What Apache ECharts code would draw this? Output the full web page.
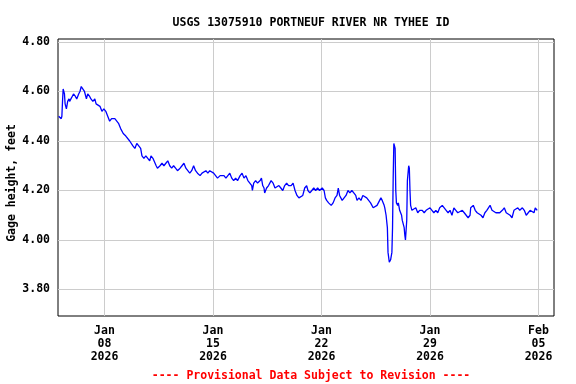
<!DOCTYPE html>
<html>
<head>
<meta charset="utf-8">
<script src="https://cdn.jsdelivr.net/npm/echarts@6/dist/echarts.min.js"></script>
<style>html,body{margin:0;padding:0;background:#fff}#c{width:576px;height:384px}</style>
</head>
<body>
<div id="c"></div>
<script>
// Hours since 2026-01-05 00:00 and gage height in feet
const startDate = '2026-01-05T00:00:00Z';
const endDate = '2026-02-06T00:00:00Z';
const hours = [
  1,3,5,6,7,8,10,11,12,13,
  15,17,18,20,22,24,27,29,32,34,
  36,39,41,44,46,49,51,54,57,59,
  62,65,68,71,74,77,80,83,88,91,
  94,97,101,105,108,111,116,119,122,125,
  128,130,133,136,139,142,144,147,150,152,
  154,158,161,164,167,170,173,176,179,182,
  185,189,192,195,198,201,204,207,210,213,
  216,220,223,226,229,232,235,238,241,244,
  247,251,254,257,260,263,266,269,272,275,
  278,282,285,288,291,294,297,300,301,303,
  306,309,313,315,317,319,320,323,326,330,
  333,336,339,342,345,348,351,354,357,361,
  364,367,370,373,376,379,382,385,387,390,
  393,396,399,402,405,409,412,414,416,419,
  423,426,429,432,434,436,440,443,446,449,
  452,455,458,461,463,466,469,472,475,478,
  481,484,488,491,494,495,500,502,505,506,
  508,510,511,513,515,517,518,519,520,522,
  523,524,526,527,529,532,533,536,537,538,
  540,541,543,544,545,546,548,551,554,557,
  560,564,567,570,573,576,579,582,585,588,
  591,595,598,601,604,607,610,613,616,619,
  622,626,629,632,635,638,639,643,646,649,
  652,655,658,661,664,667,669,672,675,678,
  681,684,688,691,694,697,700,703,706,709,
  712,715,719,722,725,728,731,734,737,739,
  742
];
const gageHeight = [
  4.50,4.50,4.49,4.50,4.56,4.61,4.59,4.55,4.54,4.53,
  4.56,4.57,4.56,4.57,4.58,4.59,4.58,4.57,4.59,4.60,
  4.62,4.62,4.60,4.57,4.59,4.58,4.57,4.56,4.57,4.55,
  4.55,4.54,4.52,4.53,4.52,4.50,4.48,4.49,4.49,4.48,
  4.47,4.45,4.43,4.42,4.42,4.40,4.38,4.37,4.39,4.38,
  4.37,4.34,4.33,4.34,4.33,4.32,4.34,4.33,4.33,4.30,
  4.29,4.30,4.31,4.30,4.31,4.32,4.30,4.29,4.30,4.29,
  4.28,4.29,4.30,4.31,4.29,4.28,4.27,4.28,4.30,4.28,
  4.27,4.26,4.27,4.27,4.28,4.27,4.28,4.28,4.27,4.26,
  4.25,4.26,4.26,4.26,4.25,4.26,4.27,4.25,4.24,4.25,
  4.24,4.26,4.27,4.25,4.26,4.24,4.23,4.22,4.20,4.23,
  4.24,4.23,4.24,4.25,4.22,4.21,4.19,4.21,4.22,4.24,
  4.23,4.21,4.21,4.22,4.21,4.20,4.22,4.23,4.22,4.22,
  4.23,4.20,4.18,4.17,4.17,4.18,4.21,4.22,4.20,4.19,
  4.20,4.21,4.20,4.21,4.20,4.21,4.20,4.17,4.16,4.15,
  4.14,4.15,4.17,4.18,4.21,4.18,4.16,4.17,4.18,4.20,
  4.19,4.20,4.19,4.18,4.16,4.17,4.16,4.18,4.18,4.17,
  4.16,4.15,4.13,4.13,4.14,4.14,4.17,4.16,4.14,4.13,
  4.10,4.05,3.95,3.91,3.92,3.95,4.05,4.25,4.39,4.37,
  4.20,4.15,4.14,4.15,4.12,4.10,4.08,4.05,4.02,4.00,
  4.08,4.24,4.30,4.29,4.20,4.14,4.12,4.12,4.13,4.11,
  4.12,4.12,4.11,4.12,4.12,4.13,4.12,4.11,4.12,4.11,
  4.13,4.14,4.13,4.12,4.11,4.12,4.10,4.13,4.12,4.11,
  4.11,4.12,4.11,4.10,4.09,4.10,4.13,4.14,4.12,4.11,
  4.11,4.10,4.09,4.11,4.12,4.12,4.14,4.12,4.12,4.11,
  4.11,4.11,4.12,4.13,4.11,4.11,4.10,4.09,4.12,4.12,
  4.13,4.12,4.13,4.12,4.10,4.10,4.12,4.12,4.11,4.13,
  4.12
];
const xTickDates = ['2026-01-08T00:00:00Z','2026-01-15T00:00:00Z','2026-01-22T00:00:00Z','2026-01-29T00:00:00Z','2026-02-05T00:00:00Z'];
const yTicks = [3.8, 4.0, 4.2, 4.4, 4.6, 4.8];
const yMin = 3.693, yMax = 4.812;
const titleText = 'USGS 13075910 PORTNEUF RIVER NR TYHEE ID';
const footText = '---- Provisional Data Subject to Revision ----';
const yName = 'Gage height, feet';

const t0 = Date.parse(startDate);
const seriesData = [];
const n = Math.min(hours.length, gageHeight.length);
for (let i = 0; i < n; i++) seriesData.push([t0 + hours[i] * 3600e3, gageHeight[i]]);
const xTicks = xTickDates.map(d => Date.parse(d));
const MONTHS = ['Jan','Feb','Mar','Apr','May','Jun','Jul','Aug','Sep','Oct','Nov','Dec'];
const FONT = '"DejaVu Sans Mono", "Liberation Mono", monospace';

const chart = echarts.init(document.getElementById('c'), null, {renderer: 'canvas'});
chart.setOption({
  animation: false,
  backgroundColor: '#ffffff',
  title: [
    {text: titleText, left: 306, top: 12, textAlign: 'center',
     textStyle: {fontFamily: FONT, fontWeight: 'bold', fontSize: 11.5, color: '#000'}},
    {text: footText, left: 306, top: 365, textAlign: 'center',
     textStyle: {fontFamily: FONT, fontWeight: 'bold', fontSize: 11.5, color: '#ff0000'}}
  ],
  grid: {left: 58, right: 22, top: 39, bottom: 68, containLabel: false, outerBoundsMode: 'none',
         show: true, borderColor: '#000', borderWidth: 1, backgroundColor: 'transparent'},
  xAxis: {
    type: 'value', min: Date.parse(startDate), max: Date.parse(endDate),
    axisLine: {show: false}, axisTick: {show: false, customValues: xTicks},
    splitLine: {show: true, lineStyle: {color: '#cccccc', width: 1}},
    axisLabel: {
      customValues: xTicks, margin: 9, lineHeight: 13,
      fontFamily: FONT, fontWeight: 'bold', fontSize: 11.5, color: '#000',
      formatter: function (v) {
        const d = new Date(v);
        return MONTHS[d.getUTCMonth()] + '\n' + String(d.getUTCDate()).padStart(2, '0') + '\n' + d.getUTCFullYear();
      }
    }
  },
  yAxis: {
    type: 'value', min: yMin, max: yMax,
    name: yName, nameLocation: 'middle', nameGap: 40, nameMoveOverlap: false,
    nameTextStyle: {fontFamily: FONT, fontWeight: 'bold', fontSize: 11.5, color: '#000', padding: [0, 11, 0, 0]},
    axisLine: {show: false}, axisTick: {show: false, customValues: yTicks},
    splitLine: {show: true, lineStyle: {color: '#cccccc', width: 1}},
    axisLabel: {
      customValues: yTicks, margin: 8,
      fontFamily: FONT, fontWeight: 'bold', fontSize: 11.5, color: '#000',
      formatter: v => v.toFixed(2)
    }
  },
  series: [{
    type: 'line', data: seriesData, showSymbol: false, symbol: 'none',
    lineStyle: {color: '#0000ff', width: 1.3}, z: 3
  }]
});
</script>
</body>
</html>
